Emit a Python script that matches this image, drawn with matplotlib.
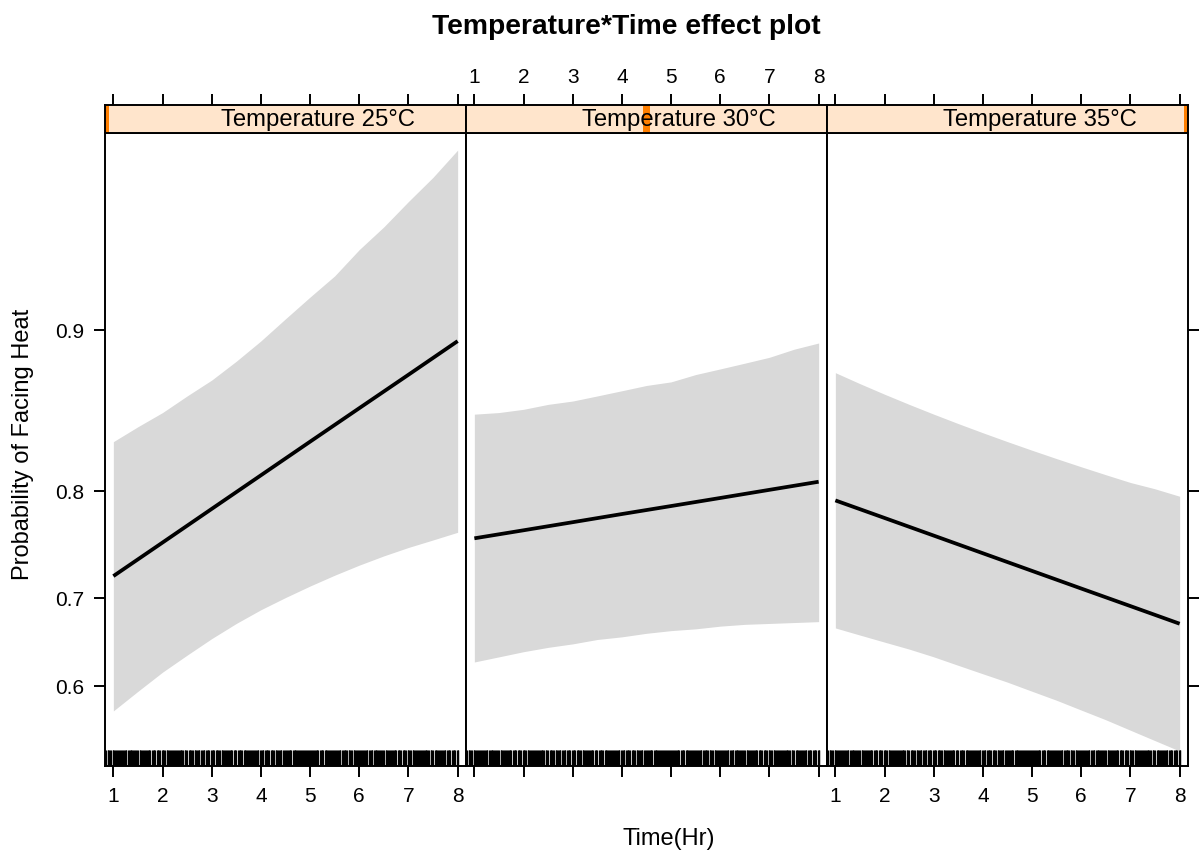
import numpy as np
import matplotlib
matplotlib.use('Agg')
import matplotlib.pyplot as plt
from matplotlib.patches import Rectangle
from matplotlib.ticker import NullLocator

plt.rcParams['font.family'] = ['Liberation Sans', 'DejaVu Sans']

# effect estimates (probability scale)
hours = [1, 2, 3, 4, 5, 6, 7, 8]
temp_levels = ['25°C', '30°C', '35°C']
fit_25 = [0.7231, 0.7556, 0.7855, 0.8126, 0.8370, 0.8587, 0.8779, 0.8949]
fit_30 = [0.7595, 0.7668, 0.7740, 0.7811, 0.7879, 0.7946, 0.8012, 0.8076]
fit_35 = [0.7926, 0.7777, 0.7620, 0.7455, 0.7283, 0.7104, 0.6919, 0.6727]
# confidence band, read every half hour
t_band = [1, 1.5, 2, 2.5, 3, 3.5, 4, 4.5, 5, 5.5, 6, 6.5, 7, 7.5, 8]
lo_25 = [0.570, 0.594, 0.617, 0.637, 0.656, 0.673, 0.688, 0.701, 0.713, 0.724, 0.734, 0.743, 0.751, 0.758, 0.765]
hi_25 = [0.837, 0.847, 0.856, 0.866, 0.875, 0.885, 0.895, 0.905, 0.914, 0.922, 0.931, 0.938, 0.945, 0.951, 0.957]
lo_30 = [0.629, 0.635, 0.641, 0.646, 0.650, 0.655, 0.658, 0.662, 0.665, 0.667, 0.670, 0.672, 0.673, 0.674, 0.675]
hi_30 = [0.855, 0.856, 0.858, 0.861, 0.863, 0.866, 0.869, 0.872, 0.874, 0.878, 0.881, 0.884, 0.887, 0.891, 0.894]
lo_35 = [0.668, 0.660, 0.652, 0.644, 0.635, 0.625, 0.615, 0.605, 0.594, 0.583, 0.571, 0.559, 0.546, 0.533, 0.520]
hi_35 = [0.879, 0.873, 0.867, 0.861, 0.855, 0.849, 0.843, 0.837, 0.831, 0.825, 0.819, 0.813, 0.807, 0.802, 0.796]
y_ticks = [0.6, 0.7, 0.8, 0.9]
y_ticklabels = ['0.6', '0.7', '0.8', '0.9']

# rug of observed times: one obs per minute, except a few empty minutes each hour
rug_gap_min = [4, 11, 17, 26, 31, 38, 46, 52, 58]
rug_times = [h + m/60. for h in range(0, 9) for m in range(60)
	if m not in rug_gap_min and 0.8 <= h + m/60. <= 8.03]

fits = [fit_25, fit_30, fit_35]
lows = [lo_25, lo_30, lo_35]
highs = [hi_25, hi_30, hi_35]

W, H = 1201., 852.
def box(x0, y0, x1, y1):
	# pixel box (top-left origin) -> figure fraction rect
	return [x0/W, 1 - y1/H, (x1 - x0)/W, (y1 - y0)/H]

fig = plt.figure(figsize=(W/100, H/100), dpi=100)
xe = [105, 466, 827, 1188]
xlim = (0.83, 8.17)
tk = dict(direction='out', length=8, width=1.4, labelsize=15, color='black')

for i in range(3):
	ax = fig.add_axes(box(xe[i], 133, xe[i+1], 766))
	ax.set_yscale('logit')
	ax.fill_between(t_band, lows[i], highs[i], color='#d9d9d9', lw=0)
	ax.plot(hours, fits[i], color='black', lw=2.7, solid_capstyle='butt')
	ax.vlines(rug_times, 0, 0.025, transform=ax.get_xaxis_transform(), color='black', lw=0.9)
	ax.set_xlim(xlim)
	ax.set_ylim(0.5012, 0.9604)
	ax.set_xticks(hours)
	ax.set_yticks(y_ticks)
	ax.set_yticklabels(y_ticklabels)
	ax.yaxis.set_minor_locator(NullLocator())
	ax.tick_params(axis='x', pad=7, labelbottom=(i != 1), **tk)
	if i == 0:
		ax.tick_params(axis='y', pad=7, **tk)
	elif i == 2:
		ax.tick_params(axis='y', left=False, right=True, labelleft=False, **tk)
	else:
		ax.tick_params(axis='y', left=False, labelleft=False)
	for s in ax.spines.values():
		s.set_linewidth(1.4)

	# strip on top
	sx = fig.add_axes(box(xe[i], 105, xe[i+1], 133))
	sx.set_facecolor('#ffe5cc')
	sx.set_xlim(xlim)
	sx.set_ylim(0, 1)
	sx.set_xticks(hours)
	sx.set_yticks([])
	sx.tick_params(axis='x', top=True, bottom=False, labeltop=(i == 1), labelbottom=False, pad=5, **tk)
	sx.add_patch(Rectangle((i*0.5 - 0.0105, 0), 0.021, 1, transform=sx.transAxes, color='#ff7f00', lw=0))
	sx.text(0.589, 0.25, 'Temperature ' + temp_levels[i], transform=sx.transAxes,
		ha='center', va='baseline', fontsize=17.2)
	for s in sx.spines.values():
		s.set_linewidth(1.4)

fig.text(626/W, 1 - 34/H, 'Temperature*Time effect plot', ha='center', va='baseline',
	fontsize=20.3, fontweight='bold')
fig.text(669/W, 1 - 845/H, 'Time(Hr)', ha='center', va='baseline', fontsize=17)
fig.text(23/W, 1 - 444/H, 'Probability of Facing Heat', rotation=90, ha='center', va='center', fontsize=17)

fig.savefig('out.png', dpi=100)
